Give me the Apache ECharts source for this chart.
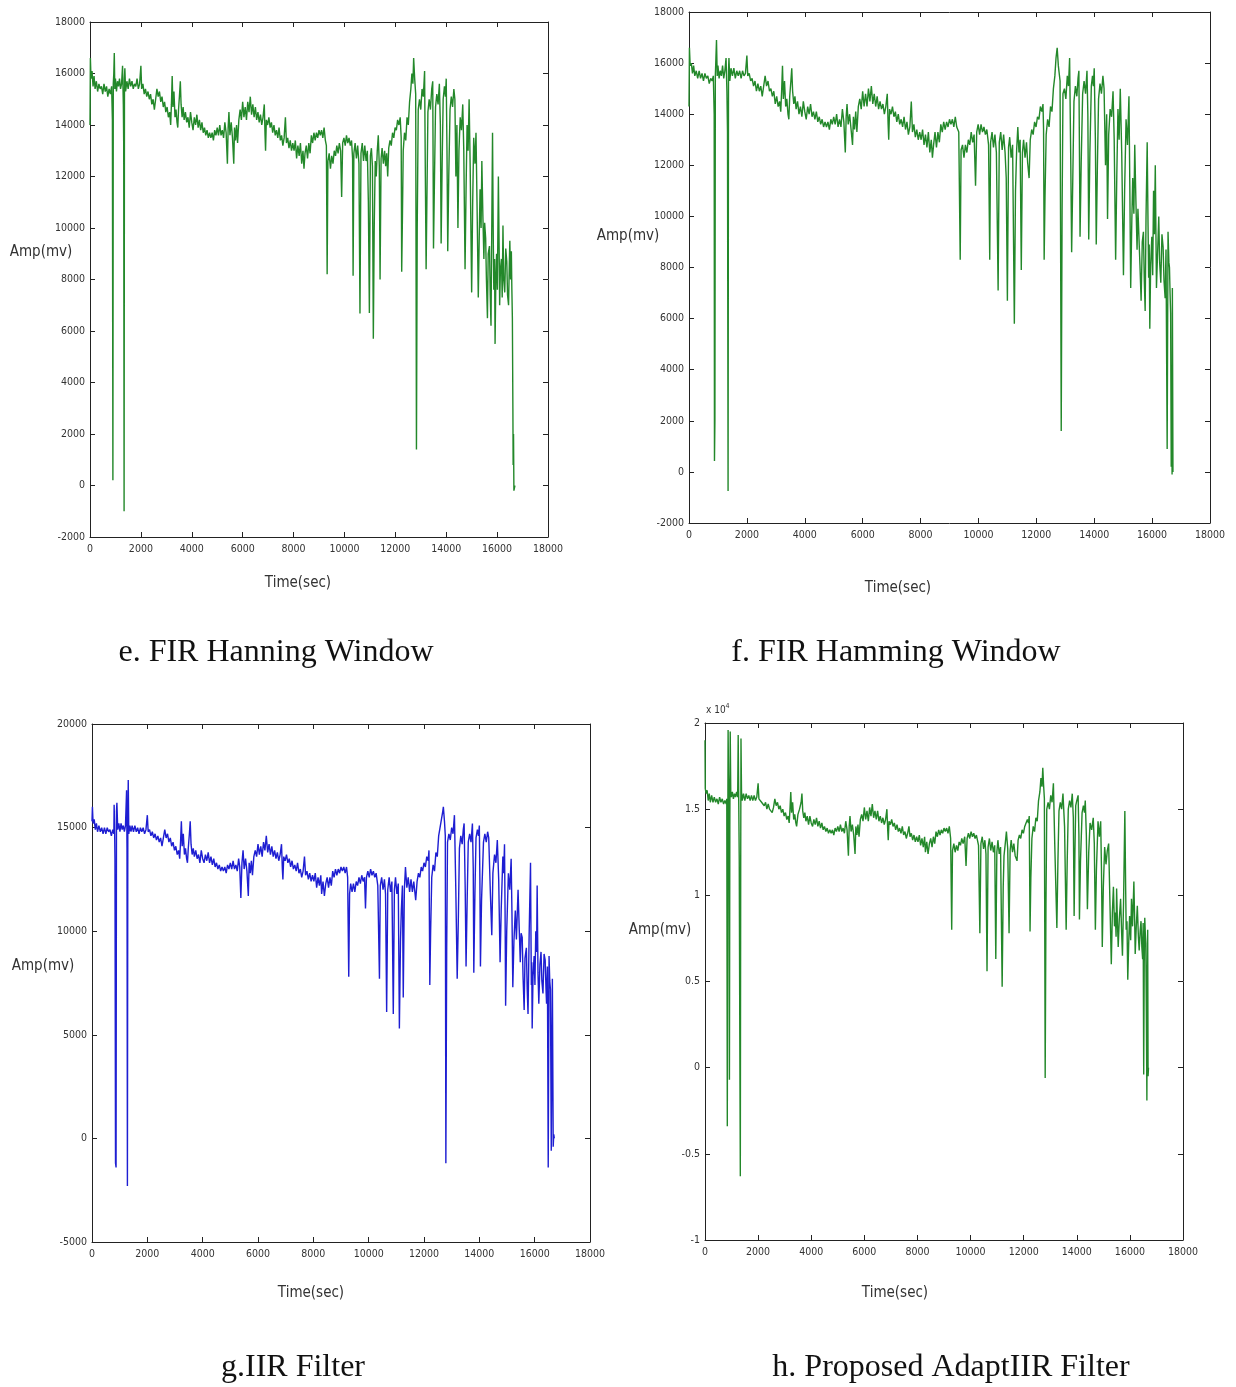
<!DOCTYPE html>
<html>
<head>
<meta charset="utf-8">
<script src="https://cdn.jsdelivr.net/npm/echarts@6/dist/echarts.min.js"></script>
<style>
html,body{margin:0;padding:0;background:#fff;}
#c{width:1236px;height:1387px;}
</style>
</head>
<body>
<div id="c"></div>
<script>
// ---------- data ----------
const timeTicks = [0,2000,4000,6000,8000,10000,12000,14000,16000,18000];
const ampTicksEF = [-2000,0,2000,4000,6000,8000,10000,12000,14000,16000,18000];
const ampTicksG = [-5000,0,5000,10000,15000,20000];
const ampTicksH = [-10000,-5000,0,5000,10000,15000,20000]; // shown as x10^4

const captions = ["e. FIR Hanning Window","f. FIR Hamming Window","g.IIR Filter","h. Proposed AdaptIIR Filter"];
const ampName = "Amp(mv)";
const timeName = "Time(sec)";

const hanning = [
[0,14000],[15,16600],[40,15800],[80,16100],[120,15500],[160,15900],[200,15400],[250,15700],[300,15300],[350,15600],[400,15400],[450,15500],[500,15200],[550,15600],[600,15300],[650,15500],[700,15100],[750,15400],[800,15200],[850,15500],[880,14200],[900,200],[915,15600],[935,16000],[955,16800],[975,15400],[1000,15800],[1040,15300],[1080,15700],[1120,15500],[1160,15800],[1200,15400],[1240,15600],[1280,16300],[1310,14800],[1325,13200],[1340,-1000],[1355,15800],[1370,16200],[1400,15300],[1450,15700],[1500,15400],[1550,15800],[1600,15500],[1650,15700],[1700,15400],[1750,15600],[1800,15500],[1850,15800],[1900,15400],[1950,15600],[2000,16300],[2030,15400],[2080,15600],[2130,15200],[2180,15400],[2230,15100],[2280,15300],[2330,15000],[2380,15200],[2430,14800],[2480,15000],[2530,14600],[2580,15000],[2630,15400],[2680,15100],[2730,15300],[2780,14900],[2830,15100],[2880,14700],[2930,14900],[2980,14500],[3030,14700],[3080,14300],[3130,14500],[3170,14000],[3200,14800],[3230,15900],[3260,14700],[3300,15300],[3340,14300],[3380,14600],[3420,14100],[3450,13900],[3480,14600],[3520,15200],[3550,15700],[3580,14800],[3620,14300],[3660,14700],[3700,14200],[3750,14500],[3800,14100],[3850,14300],[3900,13900],[3950,14500],[4000,14100],[4050,13800],[4100,14300],[4150,14000],[4200,14400],[4250,13900],[4300,14200],[4350,13800],[4400,14100],[4450,13700],[4500,13900],[4550,13600],[4600,13800],[4650,13500],[4700,13700],[4750,13500],[4800,13700],[4850,13400],[4900,13800],[4950,13600],[5000,13900],[5050,13600],[5100,14000],[5150,13600],[5200,13800],[5250,13500],[5300,14100],[5350,13700],[5400,12500],[5430,13900],[5460,14500],[5500,13600],[5550,14100],[5600,13500],[5650,12500],[5680,13900],[5720,13400],[5760,14000],[5800,13300],[5850,14200],[5900,14600],[5950,14200],[6000,14900],[6050,14300],[6100,14700],[6150,14200],[6200,14900],[6250,14500],[6300,15100],[6350,14400],[6400,14800],[6450,14300],[6500,14700],[6550,14200],[6600,14500],[6650,14100],[6700,14400],[6750,14000],[6800,14300],[6850,14800],[6880,13600],[6900,13000],[6930,14200],[6980,14000],[7030,14300],[7080,13900],[7130,14100],[7180,13700],[7230,14000],[7280,13600],[7330,13800],[7380,13500],[7430,13900],[7480,13400],[7530,13600],[7580,13200],[7630,13500],[7680,14300],[7720,13300],[7770,13500],[7820,13100],[7870,13400],[7920,13000],[7970,13300],[8020,13000],[8070,13400],[8120,12700],[8170,13200],[8220,12800],[8270,13300],[8320,12500],[8370,13000],[8410,12300],[8450,12900],[8500,13200],[8550,12700],[8600,13300],[8650,12900],[8700,13600],[8750,13300],[8800,13700],[8850,13400],[8900,13700],[8950,13500],[9000,13800],[9050,13600],[9100,13800],[9150,13500],[9200,13900],[9250,13400],[9290,13200],[9320,8200],[9350,12600],[9400,12900],[9450,12300],[9500,12800],[9550,12500],[9600,13000],[9650,12800],[9700,13200],[9750,12900],[9800,13300],[9850,13000],[9890,11200],[9930,13300],[9980,13500],[10030,13200],[10080,13600],[10130,13300],[10180,13500],[10230,13200],[10280,13400],[10320,12700],[10340,8150],[10370,12900],[10420,13300],[10470,12700],[10520,13200],[10570,12500],[10610,6680],[10650,12900],[10700,13300],[10750,12600],[10800,13200],[10850,12600],[10900,13000],[10940,11000],[10980,6700],[11020,12800],[11060,13100],[11100,12400],[11135,5700],[11170,10000],[11210,12600],[11250,12000],[11290,13000],[11330,13600],[11370,12400],[11400,8000],[11440,12700],[11480,13100],[11530,12500],[11580,13000],[11620,12400],[11660,12900],[11700,12000],[11740,13100],[11790,13400],[11840,13200],[11890,13700],[11940,13500],[11990,13900],[12040,13800],[12090,14200],[12140,14000],[12190,14300],[12230,13500],[12250,8300],[12280,10500],[12310,13000],[12360,13700],[12410,13400],[12460,14300],[12510,14000],[12560,14900],[12610,15400],[12650,16000],[12690,15600],[12720,16600],[12760,15800],[12800,15200],[12830,1400],[12860,10000],[12900,14600],[12950,15000],[13000,14600],[13050,15400],[13100,15100],[13150,16100],[13180,12000],[13210,8400],[13240,11000],[13280,14500],[13330,15000],[13380,14600],[13430,15400],[13470,15700],[13500,9200],[13540,12000],[13580,14700],[13630,15200],[13680,14800],[13730,15600],[13770,14000],[13800,9400],[13840,12500],[13880,15000],[13930,15500],[13970,15100],[14000,15800],[14030,13000],[14060,9100],[14100,12000],[14150,14600],[14200,15100],[14250,14700],[14300,15400],[14340,15000],[14380,12000],[14420,14000],[14460,10000],[14500,13000],[14550,14300],[14600,13800],[14650,14800],[14690,13000],[14740,8400],[14780,11500],[14820,14000],[14860,13000],[14900,15000],[14940,12500],[15000,7500],[15040,11000],[15080,13500],[15130,12500],[15170,13700],[15210,11000],[15260,7300],[15300,9800],[15330,11500],[15370,10000],[15400,12600],[15440,10500],[15480,8800],[15510,10200],[15550,9600],[15580,8000],[15620,6500],[15650,9000],[15700,9300],[15730,7400],[15760,6200],[15790,10000],[15820,13700],[15850,9500],[15870,7600],[15900,8800],[15920,5500],[15950,8000],[15980,9000],[16010,7600],[16050,12000],[16080,9200],[16100,7000],[16130,8400],[16170,8800],[16200,7300],[16230,10100],[16260,8000],[16300,7500],[16340,9200],[16380,8700],[16410,7400],[16450,7000],[16480,8600],[16500,9500],[16530,8000],[16560,9100],[16580,7600],[16600,6500],[16620,3000],[16630,800],[16645,2000],[16660,-200],[16700,0]
];

const hamming = [
[0,14300],[15,16600],[40,15900],[80,16000],[120,15600],[160,15900],[200,15500],[250,15700],[300,15400],[350,15700],[400,15400],[450,15600],[500,15300],[550,15600],[600,15400],[650,15500],[700,15200],[750,15400],[800,15300],[840,15500],[870,14000],[880,430],[895,2000],[910,15500],[930,16200],[950,16900],[975,15500],[1000,15900],[1040,15400],[1080,15700],[1120,15500],[1160,15900],[1200,15400],[1240,15700],[1280,16200],[1310,14900],[1330,13300],[1350,-750],[1365,15700],[1380,16200],[1410,15300],[1450,15800],[1500,15500],[1550,15800],[1600,15400],[1650,15700],[1700,15500],[1750,15700],[1800,15400],[1850,15700],[1900,15500],[1950,15600],[2000,16300],[2030,15500],[2080,15600],[2130,15300],[2180,15400],[2230,15100],[2280,15300],[2330,14900],[2380,15200],[2430,14900],[2480,15100],[2530,14700],[2580,15100],[2630,15500],[2680,15100],[2730,15300],[2780,14900],[2830,15000],[2880,14700],[2930,14900],[2980,14400],[3030,14700],[3080,14300],[3130,14500],[3170,14100],[3200,14900],[3230,15900],[3260,14600],[3300,15300],[3340,14300],[3380,14600],[3420,14000],[3450,13800],[3480,14700],[3520,15300],[3550,15800],[3580,14900],[3620,14400],[3660,14700],[3700,14200],[3750,14500],[3800,14000],[3850,14300],[3900,13900],[3950,14500],[4000,14100],[4050,13800],[4100,14300],[4150,14000],[4200,14400],[4250,13900],[4300,14100],[4350,13800],[4400,14100],[4450,13700],[4500,13900],[4550,13600],[4600,13800],[4650,13500],[4700,13700],[4750,13500],[4800,13700],[4850,13400],[4900,13800],[4950,13600],[5000,13900],[5050,13600],[5100,14000],[5150,13500],[5200,13800],[5250,13500],[5300,14200],[5350,13700],[5400,12500],[5430,13900],[5460,14400],[5500,13600],[5550,14000],[5600,13400],[5650,12800],[5680,13900],[5720,13400],[5760,14100],[5800,13300],[5850,14300],[5900,14600],[5950,14200],[6000,14900],[6050,14300],[6100,14800],[6150,14300],[6200,15000],[6250,14500],[6300,15100],[6350,14400],[6400,14800],[6450,14300],[6500,14700],[6550,14200],[6600,14500],[6650,14200],[6700,14400],[6750,14000],[6800,14300],[6850,14800],[6880,13600],[6900,13000],[6930,14200],[6980,14000],[7030,14300],[7080,13900],[7130,14100],[7180,13700],[7230,14000],[7280,13600],[7330,13800],[7380,13500],[7430,13900],[7480,13400],[7530,13700],[7580,13200],[7630,13500],[7680,14500],[7720,13300],[7770,13600],[7820,13100],[7870,13400],[7920,13000],[7970,13300],[8020,13000],[8070,13400],[8120,12800],[8170,13200],[8220,12700],[8270,13300],[8320,12500],[8370,13000],[8410,12300],[8450,12800],[8500,13300],[8550,12700],[8600,13300],[8650,12900],[8700,13600],[8750,13300],[8800,13700],[8850,13400],[8900,13700],[8950,13500],[9000,13800],[9050,13600],[9100,13800],[9150,13500],[9200,13900],[9250,13500],[9320,13300],[9370,8300],[9400,12600],[9450,12800],[9500,12300],[9550,12800],[9600,12500],[9650,13000],[9700,12800],[9750,13300],[9800,12900],[9850,13200],[9900,11200],[9940,13300],[9990,13600],[10040,13200],[10090,13600],[10140,13300],[10190,13500],[10240,13200],[10290,13400],[10350,12800],[10390,8300],[10420,12900],[10470,13300],[10520,12700],[10570,13200],[10620,12500],[10680,7100],[10720,12900],[10770,13300],[10820,12600],[10870,13200],[10920,12500],[10960,11500],[11000,6700],[11040,12700],[11080,13100],[11130,12300],[11180,12800],[11240,5800],[11280,11000],[11320,12600],[11360,13500],[11400,12500],[11440,13000],[11480,7900],[11520,12500],[11560,13000],[11610,12300],[11660,12900],[11700,12100],[11750,11500],[11790,13000],[11840,13400],[11890,13200],[11940,13700],[11990,13500],[12040,13900],[12090,13800],[12140,14300],[12190,14100],[12230,14400],[12250,13400],[12270,8300],[12300,10800],[12340,13200],[12390,13800],[12440,13500],[12490,14300],[12540,14100],[12590,15000],[12640,15500],[12680,16200],[12720,16600],[12760,15900],[12820,15300],[12860,1600],[12890,10200],[12920,14800],[12970,15000],[13020,14600],[13070,15500],[13110,15100],[13150,16200],[13190,12100],[13220,8600],[13260,11500],[13300,14500],[13350,15100],[13400,14700],[13440,15400],[13470,15700],[13510,9200],[13550,12100],[13600,14800],[13650,15300],[13700,14800],[13750,15700],[13780,14000],[13810,9100],[13850,12500],[13900,15100],[13940,15500],[13970,15100],[14000,15800],[14040,13000],[14070,8900],[14110,12000],[14150,14600],[14200,15200],[14250,14800],[14300,15500],[14340,15000],[14390,12000],[14430,14000],[14460,9900],[14500,13200],[14550,14200],[14600,13900],[14650,14900],[14690,13000],[14740,8300],[14780,11600],[14820,14200],[14860,13000],[14900,15000],[14950,12500],[15010,7700],[15050,11000],[15100,13800],[15150,12800],[15200,14700],[15230,11200],[15260,7200],[15300,9900],[15330,11500],[15370,10100],[15400,12800],[15440,10600],[15480,8700],[15510,10300],[15550,10300],[15580,8100],[15620,6700],[15660,9000],[15700,9400],[15730,7500],[15760,6300],[15790,10000],[15830,12900],[15860,9600],[15880,7600],[15900,8900],[15920,5600],[15950,8100],[15990,9200],[16020,7700],[16050,11000],[16080,9300],[16110,12000],[16150,7200],[16190,8600],[16230,10000],[16260,8200],[16300,7400],[16340,9300],[16380,8800],[16410,7500],[16450,6800],[16480,8700],[16520,900],[16550,9400],[16580,8200],[16600,8000],[16620,7000],[16640,6200],[16660,200],[16680,3000],[16690,-100],[16700,7200],[16720,0]
];

const iir = [
[0,15300],[15,16000],[40,15200],[80,15400],[120,14900],[160,15200],[200,14800],[250,15100],[300,14800],[350,15000],[400,14700],[450,15000],[500,14700],[550,15000],[600,14800],[650,14900],[700,14600],[750,14900],[790,14700],[800,16100],[815,15200],[830,13500],[850,-1200],[870,-1400],[885,15800],[900,16200],[930,14900],[970,15200],[1010,14800],[1050,15200],[1090,14900],[1130,15100],[1170,14800],[1210,15100],[1250,16800],[1265,14000],[1280,-2300],[1295,15000],[1310,17300],[1330,14700],[1370,15100],[1410,14800],[1450,15100],[1500,14800],[1550,15100],[1600,14800],[1650,15000],[1700,14700],[1750,15000],[1800,14800],[1850,15000],[1900,14700],[1950,14900],[2000,15600],[2030,14800],[2080,14900],[2130,14600],[2180,14800],[2230,14500],[2280,14700],[2330,14400],[2380,14600],[2430,14300],[2480,14500],[2530,14100],[2580,14500],[2630,14900],[2680,14500],[2730,14700],[2780,14300],[2830,14500],[2880,14100],[2930,14300],[2980,13900],[3030,14100],[3080,13700],[3130,13900],[3170,13500],[3200,14300],[3230,15300],[3260,14100],[3300,14700],[3340,13700],[3380,14000],[3420,13500],[3450,13300],[3480,14000],[3520,14700],[3550,15300],[3580,14200],[3620,13700],[3660,14000],[3700,13600],[3750,13900],[3800,13500],[3850,13700],[3900,13300],[3950,13900],[4000,13500],[4050,13300],[4100,13700],[4150,13400],[4200,13800],[4250,13300],[4300,13600],[4350,13200],[4400,13500],[4450,13100],[4500,13300],[4550,13000],[4600,13200],[4650,12900],[4700,13100],[4750,12900],[4800,13100],[4850,12800],[4900,13200],[4950,13000],[5000,13300],[5050,13000],[5100,13400],[5150,13000],[5200,13200],[5250,12900],[5300,13500],[5340,13100],[5380,11600],[5420,13300],[5460,13900],[5500,13000],[5550,13500],[5600,12900],[5650,11700],[5680,13300],[5720,12800],[5760,13400],[5800,12700],[5850,13600],[5900,13900],[5950,13600],[6000,14200],[6050,13700],[6100,14100],[6150,13600],[6200,14300],[6250,13900],[6300,14600],[6350,13800],[6400,14200],[6450,13700],[6500,14100],[6550,13600],[6600,13900],[6650,13500],[6700,13800],[6750,13400],[6800,13700],[6850,14200],[6880,13000],[6900,12500],[6930,13600],[6980,13400],[7030,13700],[7080,13300],[7130,13500],[7180,13100],[7230,13400],[7280,13000],[7330,13200],[7380,12900],[7430,13300],[7480,12800],[7530,13000],[7580,12600],[7630,12900],[7680,13600],[7720,12700],[7770,12900],[7820,12500],[7870,12800],[7920,12400],[7970,12700],[8020,12400],[8070,12800],[8120,12100],[8170,12600],[8220,12200],[8270,12700],[8300,11800],[8350,12400],[8400,11700],[8450,12300],[8500,12600],[8550,12100],[8600,12600],[8650,12200],[8700,12900],[8750,12600],[8800,13000],[8850,12700],[8900,13000],[8950,12800],[9000,13100],[9050,12900],[9100,13100],[9150,12800],[9200,13100],[9240,12600],[9280,7800],[9310,11800],[9350,12300],[9400,11900],[9450,12300],[9500,11900],[9550,12400],[9600,12200],[9650,12600],[9700,12300],[9750,12700],[9800,12400],[9850,12600],[9885,11100],[9920,12600],[9970,12900],[10020,12600],[10070,13000],[10120,12700],[10170,12900],[10220,12600],[10270,12800],[10330,12200],[10390,7700],[10420,12200],[10470,12600],[10520,12000],[10570,12500],[10610,11800],[10650,6100],[10690,12000],[10740,12600],[10790,11900],[10840,12400],[10890,6000],[10930,12000],[10970,12600],[11020,11800],[11070,12300],[11110,5300],[11150,9500],[11180,11000],[11220,12200],[11250,6800],[11290,12000],[11330,13100],[11380,12100],[11430,12600],[11480,11900],[11530,12500],[11580,11900],[11630,12400],[11700,11500],[11750,12400],[11800,12800],[11850,12600],[11900,13100],[11950,12900],[12000,13300],[12050,13100],[12100,13600],[12150,13400],[12180,13900],[12210,7400],[12240,10000],[12280,12600],[12330,13200],[12380,12900],[12430,13800],[12480,13600],[12530,14600],[12580,15000],[12630,15400],[12680,15800],[12700,16000],[12740,15300],[12770,14600],[12790,-1200],[12820,9000],[12850,14300],[12900,14700],[12950,14400],[13000,15000],[13050,14700],[13100,15600],[13150,12000],[13200,7700],[13240,10500],[13280,14000],[13330,14600],[13380,14200],[13420,14900],[13450,15200],[13490,12000],[13520,8300],[13560,11500],[13600,14300],[13650,14700],[13700,14300],[13750,15200],[13780,13000],[13800,8000],[13840,11800],[13880,14500],[13930,14900],[13970,14600],[14000,15100],[14020,12500],[14040,8300],[14080,11500],[14150,14300],[14200,14700],[14250,14300],[14300,14800],[14340,14500],[14400,11800],[14450,9800],[14490,12800],[14550,13700],[14600,13300],[14650,14400],[14700,12500],[14750,8500],[14790,11000],[14850,13600],[14880,12800],[14910,14200],[14930,11000],[14950,6400],[14990,10000],[15050,12800],[15100,12000],[15150,13500],[15180,10800],[15210,7300],[15250,9500],[15300,11000],[15340,9600],[15400,12000],[15440,10200],[15480,8500],[15510,9900],[15550,9700],[15580,7800],[15620,6200],[15650,8700],[15700,9200],[15730,7200],[15760,6000],[15800,9800],[15850,13300],[15870,9200],[15880,7400],[15895,8500],[15910,5300],[15940,7800],[15980,8800],[16010,7400],[16040,10000],[16070,9000],[16090,12200],[16120,8000],[16150,6500],[16190,8400],[16230,9000],[16260,7600],[16300,7000],[16340,8900],[16380,8600],[16410,7200],[16430,6500],[16460,8300],[16490,-1400],[16520,8800],[16545,7600],[16570,7200],[16600,-600],[16620,4000],[16640,7700],[16670,-400],[16690,200],[16710,0]
];

const adaptIIR = [
[0,19000],[10,16200],[40,15900],[80,16100],[120,15500],[160,15900],[200,15400],[250,15800],[300,15400],[350,15700],[400,15400],[450,15600],[500,15300],[550,15700],[600,15400],[650,15600],[700,15300],[750,15500],[800,15300],[820,15600],[840,-3400],[855,12000],[870,19600],[885,17000],[900,16000],[920,-700],[935,14000],[950,19500],[970,16000],[990,15700],[1030,16000],[1070,15600],[1110,15900],[1150,15700],[1190,16000],[1230,15700],[1250,19300],[1270,15500],[1290,12000],[1310,2000],[1330,-6300],[1345,12000],[1355,19100],[1375,16000],[1400,15500],[1450,15900],[1500,15500],[1550,15900],[1600,15600],[1650,15800],[1700,15500],[1750,15800],[1800,15500],[1850,15800],[1900,15500],[1950,15700],[2000,16500],[2030,15600],[2080,15700],[2130,15400],[2180,15500],[2230,15200],[2280,15400],[2330,15000],[2380,15300],[2430,15000],[2480,15100],[2530,14800],[2580,15100],[2630,15600],[2680,15200],[2730,15400],[2780,15000],[2830,15200],[2880,14800],[2930,15000],[2980,14600],[3030,14800],[3080,14400],[3130,14600],[3170,14200],[3200,15000],[3230,16000],[3260,14800],[3300,15400],[3340,14400],[3380,14700],[3420,14200],[3450,14000],[3500,14700],[3560,15000],[3620,15400],[3650,15900],[3680,14900],[3720,14500],[3760,14800],[3800,14300],[3850,14600],[3900,14100],[3950,14600],[4000,14200],[4050,14000],[4100,14400],[4150,14100],[4200,14500],[4250,14000],[4300,14300],[4350,13900],[4400,14200],[4450,13800],[4500,14000],[4550,13700],[4600,13900],[4650,13600],[4700,13800],[4750,13600],[4800,13800],[4850,13500],[4900,13900],[4950,13700],[5000,14000],[5050,13700],[5100,14100],[5150,13700],[5200,13900],[5250,13600],[5300,14300],[5350,13800],[5400,12300],[5430,14000],[5460,14600],[5500,13700],[5550,14100],[5600,13500],[5650,12400],[5680,14000],[5720,13500],[5760,14100],[5800,13400],[5850,14400],[5900,14700],[5950,14300],[6000,15100],[6050,14400],[6100,14900],[6150,14300],[6200,15100],[6250,14600],[6300,15300],[6350,14500],[6400,14900],[6450,14400],[6500,14900],[6550,14300],[6600,14600],[6650,14200],[6700,14500],[6750,14100],[6800,14400],[6850,15000],[6880,13800],[6900,13200],[6930,14300],[6980,14100],[7030,14400],[7080,14000],[7130,14200],[7180,13800],[7230,14100],[7280,13700],[7330,13900],[7380,13600],[7430,14000],[7480,13500],[7530,13700],[7580,13300],[7630,13600],[7680,14000],[7720,13400],[7770,13600],[7820,13200],[7870,13500],[7920,13100],[7970,13400],[8020,13100],[8070,13500],[8120,12900],[8170,13300],[8220,12800],[8270,13400],[8300,12500],[8350,13100],[8400,12400],[8450,13000],[8500,13300],[8550,12800],[8600,13400],[8650,13000],[8700,13700],[8750,13400],[8800,13800],[8850,13500],[8900,13800],[8950,13600],[9000,13900],[9050,13700],[9100,13900],[9150,13600],[9200,14000],[9250,13300],[9290,8000],[9320,12600],[9370,13000],[9420,12500],[9470,12900],[9520,12600],[9570,13100],[9620,12900],[9670,13300],[9720,13000],[9780,13400],[9830,11700],[9870,13300],[9920,13600],[9970,13300],[10020,13700],[10070,13400],[10120,13600],[10170,13300],[10220,13500],[10300,12900],[10350,7800],[10390,13000],[10440,13400],[10490,12700],[10540,13200],[10580,12400],[10620,5600],[10660,12800],[10710,13300],[10760,12600],[10810,13100],[10860,12500],[10910,12900],[10950,6300],[10990,12500],[11030,13200],[11080,12400],[11130,12800],[11190,4700],[11230,10500],[11260,12300],[11300,12900],[11350,13700],[11400,12700],[11450,7800],[11490,12600],[11530,13200],[11580,12500],[11630,13000],[11680,12300],[11750,12000],[11790,13200],[11840,13500],[11890,13300],[11940,13800],[11990,13600],[12040,14000],[12090,13900],[12140,14400],[12180,14200],[12210,14600],[12240,7900],[12270,11000],[12310,13300],[12360,14000],[12410,13700],[12460,14500],[12510,14300],[12560,15500],[12610,16000],[12650,16800],[12690,16300],[12720,17400],[12750,16400],[12780,15600],[12810,-600],[12840,9500],[12870,15000],[12920,15400],[12970,15000],[13020,15800],[13070,15400],[13120,16500],[13170,13000],[13250,8100],[13290,12000],[13330,14900],[13380,15400],[13430,15000],[13480,15900],[13540,14000],[13600,8000],[13640,12000],[13680,15000],[13730,15500],[13780,15100],[13830,15900],[13870,14500],[13900,8800],[13930,12500],[13960,15200],[14000,15500],[14050,15800],[14080,13500],[14100,8600],[14140,12000],[14200,14800],[14250,15200],[14290,14800],[14320,15500],[14360,13500],[14400,9200],[14450,12500],[14500,14200],[14560,13800],[14620,14500],[14660,13000],[14700,8000],[14740,11500],[14800,14300],[14850,13400],[14900,14300],[14930,11500],[14960,7000],[15000,10500],[15050,12800],[15100,11800],[15150,12600],[15200,13000],[15250,9500],[15300,6000],[15340,9000],[15380,10500],[15420,8200],[15450,9000],[15480,7600],[15500,10400],[15530,8500],[15560,7000],[15600,8600],[15650,9800],[15690,7800],[15720,6500],[15760,9500],[15810,14900],[15840,10500],[15860,8000],[15890,8500],[15920,5100],[15960,7500],[15990,8800],[16030,7400],[16060,9800],[16100,8200],[16150,10800],[16180,8500],[16200,6600],[16240,8200],[16280,9400],[16320,7600],[16350,6800],[16390,8000],[16420,8500],[16450,7000],[16480,6300],[16500,8400],[16520,-400],[16540,6000],[16560,8700],[16580,7800],[16600,7200],[16620,3000],[16640,-1900],[16655,5000],[16670,8000],[16685,-500],[16700,0]
];

// ---------- layout ----------
const panels = [
  {grid:{left:90,top:22,width:458,height:515}, y:ampTicksEF, data:hanning, color:'#23882a',
   amp:[41,252], time:[298,583], cap:[276,653]},
  {grid:{left:689,top:12,width:521,height:511}, y:ampTicksEF, data:hamming, color:'#23882a',
   amp:[628,236], time:[898,588], cap:[896,653]},
  {grid:{left:92,top:724,width:498,height:518}, y:ampTicksG, data:iir, color:'#1e1ed2',
   amp:[43,966], time:[311,1293], cap:[293,1368]},
  {grid:{left:705,top:723,width:478,height:517}, y:ampTicksH, data:adaptIIR, color:'#23882a',
   amp:[660,930], time:[895,1293], cap:[951,1368], scaled:true}
];

const tickFont = "'DejaVu Sans Condensed','Liberation Sans',sans-serif";
const nameFont = "15px 'DejaVu Sans Condensed','Liberation Sans',sans-serif";
const grids=[], xAxes=[], yAxes=[], series=[], graphics=[];
const lineCol = '#222';

panels.forEach((p,i)=>{
  grids.push(Object.assign({}, p.grid));
  const xt = timeTicks, yt = p.y;
  const xi = xt[1]-xt[0], yi = yt[1]-yt[0];
  const base = {type:'value', gridIndex:i, splitLine:{show:false},
    axisLine:{show:true, onZero:false, lineStyle:{color:lineCol,width:1}},
    axisTick:{show:true, inside:true, length:5, lineStyle:{color:lineCol}}};
  xAxes.push(Object.assign({}, base, {position:'bottom', min:xt[0], max:xt[xt.length-1], interval:xi,
    axisLabel:{show:true, margin:7, fontFamily:tickFont, fontSize:10.5, color:'#333', showMinLabel:true, showMaxLabel:true,
      formatter:(v=>String(v))}}));
  xAxes.push(Object.assign({}, base, {position:'top', min:xt[0], max:xt[xt.length-1], interval:xi,
    axisLabel:{show:false}}));
  yAxes.push(Object.assign({}, base, {position:'left', min:yt[0], max:yt[yt.length-1], interval:yi,
    axisLabel:{show:true, margin:5, fontFamily:tickFont, fontSize:10.5, color:'#333', showMinLabel:true, showMaxLabel:true,
      formatter: p.scaled ? (v=>String(v/10000)) : (v=>String(v))}}));
  yAxes.push(Object.assign({}, base, {position:'right', min:yt[0], max:yt[yt.length-1], interval:yi,
    axisLabel:{show:false}}));
  series.push({type:'line', xAxisIndex:2*i, yAxisIndex:2*i, data:p.data, showSymbol:false, symbol:'none',
    lineStyle:{color:p.color, width:1.4}, silent:true, animation:false});
  graphics.push({type:'text', x:p.amp[0], y:p.amp[1], style:{text:ampName, fill:'#333',
    font:nameFont, align:'center', verticalAlign:'middle'}});
  graphics.push({type:'text', x:p.time[0], y:p.time[1], style:{text:timeName, fill:'#333',
    font:nameFont, align:'center', verticalAlign:'middle'}});
  graphics.push({type:'text', x:p.cap[0], y:p.cap[1], style:{text:captions[i], fill:'#111',
    font:"32px 'Liberation Serif','Times New Roman',serif", align:'center', verticalAlign:'middle'}});
});
// x10^4 exponent label for panel h
graphics.push({type:'text', x:706, y:710, style:{
  text:'{a|x 10}{b|4}', fill:'#333', align:'left', verticalAlign:'middle',
  rich:{a:{fontSize:10, fontFamily:tickFont, fill:'#333'}, b:{fontSize:7, fontFamily:tickFont, fill:'#333', verticalAlign:'top', padding:[0,0,8,0]}}}});

const chart = echarts.init(document.getElementById('c'), null, {renderer:'canvas'});
chart.setOption({
  animation:false,
  backgroundColor:'#fff',
  grid:grids, xAxis:xAxes, yAxis:yAxes, series:series,
  graphic:graphics
});
</script>
</body>
</html>
